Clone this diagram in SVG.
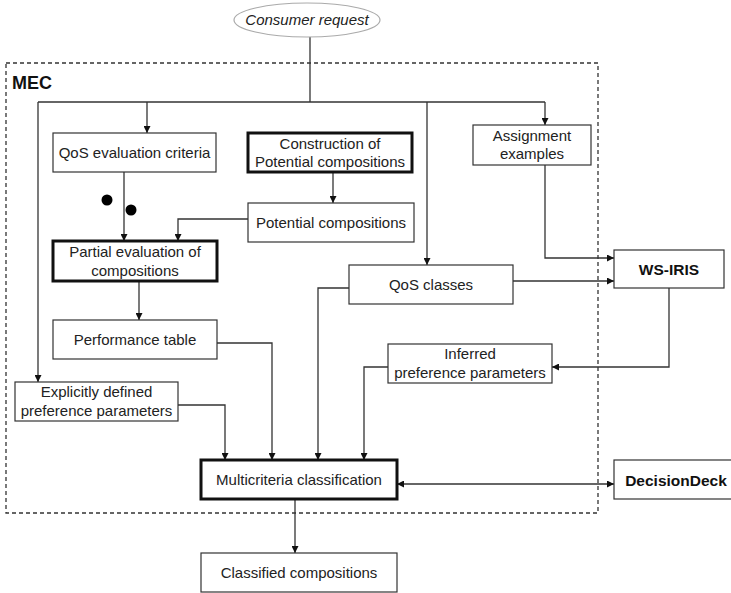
<svg xmlns="http://www.w3.org/2000/svg" width="731" height="593" viewBox="0 0 731 593">
<style>
.box{fill:#fff;stroke:#333;stroke-width:1.2}
.thick{fill:#fff;stroke:#111;stroke-width:3}
.t{font-family:"Liberation Sans",Arial,sans-serif;font-size:15px;fill:#222;text-anchor:middle}
.b{font-weight:bold;font-size:15.5px;fill:#111}
.ln{fill:none;stroke:#333;stroke-width:1.3}
</style>
<defs>
<marker id="ah" viewBox="0 0 10 10" refX="10" refY="5" markerWidth="7" markerHeight="7" markerUnits="userSpaceOnUse" orient="auto-start-reverse"><path d="M0,0 L10,5 L0,10 z" fill="#111"/></marker>
</defs>
<rect width="731" height="593" fill="#fff"/>
<g id="mec">
<rect x="6" y="63" width="592" height="450" fill="none" stroke="#333" stroke-width="1.3" stroke-dasharray="4,3"/>
<text x="12" y="89" class="t b" style="text-anchor:start;font-size:18px">MEC</text>
</g>
<g id="connectors">
<path class="ln" d="M310,37 V102"/>
<path class="ln" d="M38,102 H545"/>
<path class="ln" d="M147,102 V133" marker-end="url(#ah)"/>
<path class="ln" d="M427,102 V265" marker-end="url(#ah)"/>
<path class="ln" d="M545,102 V125" marker-end="url(#ah)"/>
<path class="ln" d="M38,102 V382" marker-end="url(#ah)"/>
<path class="ln" d="M333,172 V203" marker-end="url(#ah)"/>
<path class="ln" d="M124,172 V241" marker-end="url(#ah)"/>
<path class="ln" d="M248,219 H178 V241" marker-end="url(#ah)"/>
<path class="ln" d="M139,281 V320" marker-end="url(#ah)"/>
<path class="ln" d="M217,343 H272 V460" marker-end="url(#ah)"/>
<path class="ln" d="M178,405 H225 V460" marker-end="url(#ah)"/>
<path class="ln" d="M349,288 H318 V460" marker-end="url(#ah)"/>
<path class="ln" d="M388,367 H364 V460" marker-end="url(#ah)"/>
<path class="ln" d="M513,281 H614" marker-end="url(#ah)"/>
<path class="ln" d="M545,165 V258 H614" marker-end="url(#ah)"/>
<path class="ln" d="M669,288 V367 H552" marker-end="url(#ah)"/>
<path class="ln" d="M397,484 H614" marker-start="url(#ah)" marker-end="url(#ah)"/>
<path class="ln" d="M295,499 V553" marker-end="url(#ah)"/>
<circle cx="107" cy="200" r="5.5" fill="#000"/>
<circle cx="131" cy="210" r="5.5" fill="#000"/>
</g>
<g id="consumer">
<ellipse cx="307" cy="20" rx="73" ry="17" fill="#fff" stroke="#aaa" stroke-width="1.2"/>
<text x="307" y="25" class="t" style="font-style:italic">Consumer request</text>
</g>
<g id="qos-eval">
<rect class="box" x="53" y="133" width="163" height="39"/>
<text x="134.5" y="158" class="t">QoS evaluation criteria</text>
</g>
<g id="construction">
<rect class="thick" x="248" y="133" width="164" height="39"/>
<text x="330" y="149" class="t">Construction of</text>
<text x="330" y="167" class="t">Potential  compositions</text>
</g>
<g id="assignment">
<rect class="box" x="473" y="125" width="118" height="40"/>
<text x="532" y="141" class="t">Assignment</text>
<text x="532" y="159" class="t">examples</text>
</g>
<g id="potential">
<rect class="box" x="248" y="203" width="166" height="39"/>
<text x="331" y="228" class="t">Potential compositions</text>
</g>
<g id="partial">
<rect class="thick" x="53" y="241" width="164" height="40"/>
<text x="135" y="257" class="t">Partial evaluation of</text>
<text x="135" y="276" class="t">compositions</text>
</g>
<g id="qos-classes">
<rect class="box" x="349" y="265" width="164" height="39"/>
<text x="431" y="290" class="t">QoS classes</text>
</g>
<g id="wsiris">
<rect class="box" x="614" y="250" width="110" height="38"/>
<text x="669" y="275" class="t b">WS-IRIS</text>
</g>
<g id="performance">
<rect class="box" x="53" y="320" width="164" height="39"/>
<text x="135" y="345" class="t">Performance table</text>
</g>
<g id="inferred">
<rect class="box" x="388" y="344" width="164" height="39"/>
<text x="470" y="359" class="t">Inferred</text>
<text x="470" y="378" class="t">preference parameters</text>
</g>
<g id="explicit">
<rect class="box" x="15" y="382" width="163" height="39"/>
<text x="96.5" y="397" class="t">Explicitly defined</text>
<text x="96.5" y="416" class="t">preference parameters</text>
</g>
<g id="multicriteria">
<rect class="thick" x="201" y="460" width="196" height="39"/>
<text x="299" y="485" class="t">Multicriteria classification</text>
</g>
<g id="decisiondeck">
<rect class="box" x="614" y="460" width="125" height="39"/>
<text x="676" y="486" class="t b">DecisionDeck</text>
</g>
<g id="classified">
<rect class="box" x="201" y="553" width="196" height="39"/>
<text x="299" y="578" class="t">Classified compositions</text>
</g>
</svg>
